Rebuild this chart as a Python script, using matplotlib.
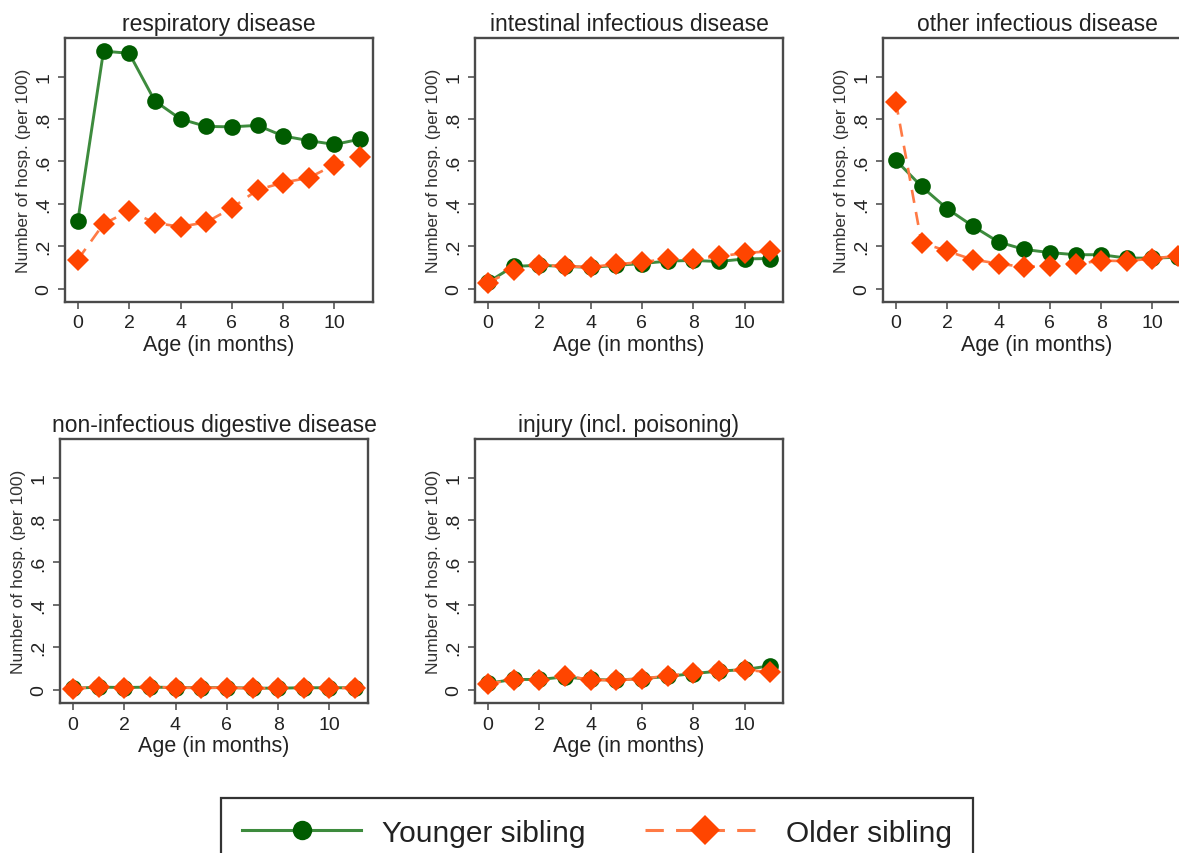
import matplotlib
matplotlib.use("Agg")
import matplotlib.pyplot as plt
from matplotlib.lines import Line2D

plt.rcParams['font.family'] = ['Liberation Sans', 'DejaVu Sans']

# data
months = list(range(12))
titles = ["respiratory disease", "intestinal infectious disease", "other infectious disease",
          "non-infectious digestive disease", "injury (incl. poisoning)"]

resp_young = [0.32, 1.12, 1.11, 0.885, 0.80, 0.765, 0.763, 0.77, 0.72, 0.698, 0.68, 0.705]
resp_old = [0.137, 0.305, 0.367, 0.31, 0.292, 0.313, 0.38, 0.466, 0.50, 0.523, 0.584, 0.622]

intest_young = [0.03, 0.105, 0.11, 0.105, 0.10, 0.11, 0.118, 0.13, 0.133, 0.128, 0.14, 0.142]
intest_old = [0.028, 0.088, 0.112, 0.105, 0.102, 0.115, 0.125, 0.14, 0.14, 0.152, 0.168, 0.176]

other_young = [0.606, 0.482, 0.377, 0.295, 0.22, 0.185, 0.17, 0.16, 0.16, 0.144, 0.144, 0.148]
other_old = [0.882, 0.217, 0.177, 0.137, 0.118, 0.102, 0.108, 0.116, 0.132, 0.13, 0.142, 0.155]

digest_young = [0.006, 0.012, 0.01, 0.012, 0.01, 0.009, 0.01, 0.007, 0.007, 0.009, 0.009, 0.009]
digest_old = [0.005, 0.013, 0.01, 0.012, 0.01, 0.008, 0.01, 0.006, 0.006, 0.008, 0.008, 0.008]

injury_young = [0.03, 0.048, 0.048, 0.06, 0.048, 0.045, 0.052, 0.062, 0.076, 0.087, 0.095, 0.112]
injury_old = [0.027, 0.047, 0.047, 0.066, 0.046, 0.044, 0.052, 0.065, 0.079, 0.087, 0.094, 0.082]

young = [resp_young, intest_young, other_young, digest_young, injury_young]
old = [resp_old, intest_old, other_old, digest_old, injury_old]

ytick_vals = [0, 0.2, 0.4, 0.6, 0.8, 1]
ytick_labels = ["0", ".2", ".4", ".6", ".8", "1"]
xtick_vals = [0, 2, 4, 6, 8, 10]

green_line = "#3d8b3d"
green_mark = "#005c00"
orange_line = "#ff7a45"
orange_mark = "#ff4500"
txt = "#222222"

W, H = 1179, 854
fig = plt.figure(figsize=(W / 100, H / 100), dpi=100)

# panel boxes in pixels: left, top
boxes = [(65, 39), (475, 39), (883, 39), (60, 440), (475, 440)]
bw, bh = 308, 264

for i in range(5):
    l, t = boxes[i]
    ax = fig.add_axes([l / W, 1 - (t + bh) / H, bw / W, bh / H])
    ax.plot(months, old[i], color=orange_line, lw=1.9, dashes=(5, 3.5),
            marker="D", ms=11, mfc=orange_mark, mec=orange_mark, mew=0, zorder=2)
    ax.plot(months, young[i], color=green_line, lw=2.1,
            marker="o", ms=12, mfc=green_mark, mec=green_mark, mew=0, zorder=1)
    ax.set_xlim(-0.5, 11.5)
    ax.set_ylim(-0.063, 1.182)
    ax.set_xticks(xtick_vals)
    ax.set_yticks(ytick_vals)
    ax.set_yticklabels(ytick_labels, rotation=90, va="center")
    ax.tick_params(axis="both", direction="out", length=5, width=1.2,
                   color="#555555", labelsize=14, labelcolor=txt, pad=4)
    for s in ax.spines.values():
        s.set_color("#4a4a4a")
        s.set_linewidth(1.7)
    ax.set_title(titles[i], fontsize=16.5, color=txt, pad=6)
    ax.set_xlabel("Age (in months)", fontsize=15.5, color=txt, labelpad=2)
    ax.set_ylabel("Number of hosp. (per 100)", fontsize=12.5, color="#333333", labelpad=3)

handles = [
    Line2D([], [], color=green_line, lw=2.2, marker="o", ms=14, mfc=green_mark, mec=green_mark, mew=0),
    Line2D([], [], color=orange_line, lw=2.2, dashes=(6, 4), marker="D", ms=15,
           mfc=orange_mark, mec=orange_mark, mew=0),
]
leg = fig.legend(handles, ["Younger sibling", "Older sibling"], ncol=2,
                 loc="upper left", bbox_to_anchor=(221 / W, 1 - 799 / H),
                 borderaxespad=0, fontsize=21.5, handlelength=4, handletextpad=0.7,
                 columnspacing=2, borderpad=0.7, fancybox=False, edgecolor="#333333",
                 framealpha=1)
leg.get_frame().set_linewidth(1.6)
for t in leg.get_texts():
    t.set_color(txt)

fig.savefig("out.png", dpi=100)
